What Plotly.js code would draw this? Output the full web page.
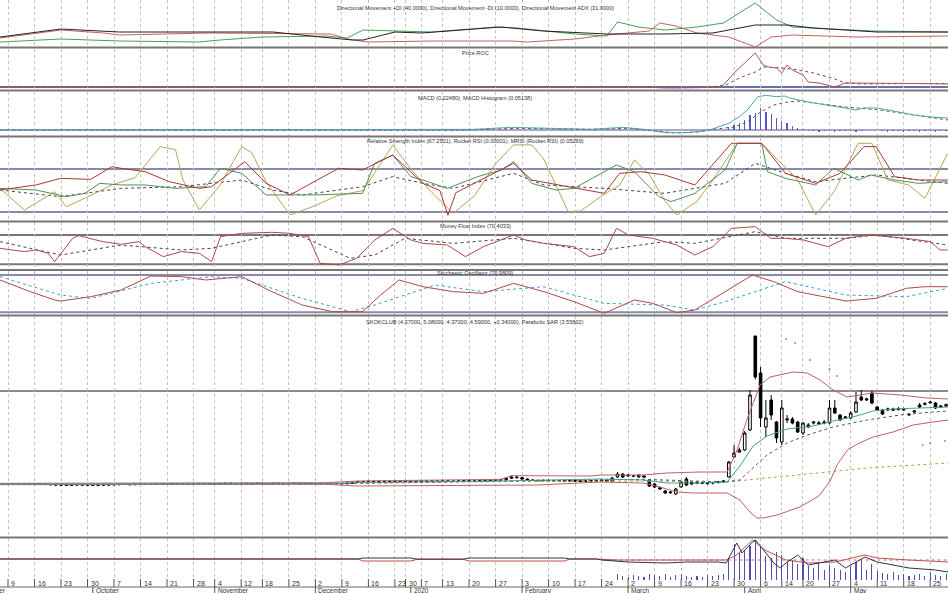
<!DOCTYPE html>
<html><head><meta charset="utf-8">
<script src="https://cdn.plot.ly/plotly-3.0.1.min.js"></script>
<style>html,body{margin:0;padding:0;background:#fff}#chart{width:948px;height:593px}</style>
</head><body><div id="chart"></div>
<script>
// ---------- axis: trading-day index (0 = 9 Sep 2019) ----------
const weekIdx  = [0,5,10,15,20,25,30,35,39,44,48,53,58,63,68,73,75,78,82,87,92,97,102,107,112,117,122,127,132,137,142,146,150,155,159,164,169,174];
const weekText = ['9','16','23','30','7','14','21','28','4','12','18','25','2','9','16','23','30','7','13','20','27','3','10','17','24','2','9','16','23','30','6','14','20','27','4','11','18','25'];
const monthIdx  = [16,39,58,76,97,117,139,159];
const monthText = ['October','November','December','2020','February','March','April','May'];

// ---------- panel titles ----------
const titles = [
 'Directional Movement +DI (40.0000), Directional Movement -DI (10.0000), Directional Movement ADX (31.0000)',
 'Price ROC',
 'MACD (0.22480), MACD Histogram (0.05138)',
 'Relative Strength Index (67.2501), Rocket RSI (0.00001), MRSI (Rocket RSI) (0.05269)',
 'Money Flow Index (70.4033)',
 'Stochastic Oscillator (70.9809)',
 'SKOKCLUB (4.37000, 5.08000, 4.37000, 4.59000, +0.34000), Parabolic SAR (3.55802)'
];

// ---------- DMI ----------
const adxDay = [-1.5,10,21,38,50,59,65,67,73,78,93,101,113,124,133,141,147,152,164,177.4];
const adxVal = [20,36,30,30,30,20,14,14,30,28,40,32,26,26,28,44,44,38,30,30];
const plusDiDay = [-1.5,10,21,36,40,48,60,64,67,72,80,92,96,107,113,115,119,124,130,135,138,141,145,148,163,177.4];
const plusDiVal = [10,16,12,10,14,20,22,18,34,32,30,40,38,26,22,50,40,34,40,48,68,88,54,40,32,30];
const minusDiDay = [-1.5,10,18,21,38,61,64,68,80,95,98,107,113,121,123,126,130,136,141,144,148,160,177.4];
const minusDiVal = [18,34,28,24,28,26,16,10,12,12,10,16,24,32,48,42,28,20,0,20,24,20,22];

// ---------- Price ROC ----------
const rocDay = [-1.5,20,53,60,70,90,100,108,115,120,124,128,132,134,135,137,139,141,142.5,143.5,145,146,147,148,150,151,153,156,158,164,171,177.4];
const rocVal = [0,0,0.5,0.5,0,1,1.5,0,1,0,-2,-2,-1,0,4,28,48,68,44,40,38,28,44,34,24,10,8,0,8,8,7,6];
const rocSigDay = [-1.5,100,110,120,126,132,135.5,138,141,142.5,146,148,152,156,158,161,171,177.4];
const rocSigVal = [0,0.5,0.5,0.5,-1.5,-1,4,18,30,40,38,36,28,16,8,6,7,7];

// ---------- MACD ----------
const macdDay = [-1.5,50,88,95,102,110,116,120,124,128,132,134,136,138,139.5,141,141.5,143,145,146.5,147.5,151,155,158,160,161.5,164,168,171,174,177.4];
const macdVal = [0,0,0.01,0.04,0.03,0.01,0.04,0.01,-0.04,-0.04,-0.01,0.045,0.1,0.2,0.3,0.45,0.5,0.52,0.5,0.51,0.48,0.42,0.375,0.33,0.3,0.33,0.33,0.27,0.225,0.195,0.18];
const macdSigDay = [-1.5,86,96,110,117,122,126,130,133,137,139.5,142,144.5,147,149,152,158,164.5,171,174,177.4];
const macdSigVal = [0,0,0.025,0.01,0.025,-0.01,-0.045,-0.03,0.01,0.045,0.12,0.27,0.375,0.42,0.435,0.405,0.345,0.3,0.225,0.18,0.15];
const histDay = [136,137,138,139,140,141,142,143,144,145,146,147,148,149,150,151,152,153,154,155,156,157,158,159,160,161,165,166,167,168,169,170,171,172,173,174,175,176,177];
const histVal = [0.05,0.08,0.10,0.15,0.22,0.26,0.33,0.27,0.24,0.18,0.14,0.10,0.06,0.03,0.01,-0.02,-0.02,-0.025,-0.02,-0.02,-0.025,-0.02,-0.02,-0.02,-0.025,-0.02,-0.02,-0.025,-0.02,-0.02,-0.025,-0.02,-0.02,-0.025,-0.02,-0.02,-0.025,-0.02,-0.02];

// ---------- RSI family ----------
const rsiDay = [-1.5,5.3,9.9,15.6,19.6,21.3,25.9,30.4,36.1,38.4,44.7,48.7,53.2,62.4,66.9,72.6,78.3,81.5,83,84.5,88.6,93.1,95.4,98.8,105.7,112.5,115.4,119.4,123.9,129.6,136.5,142.2,146.7,152.4,157,161.5,163.8,167.3,171.8,177.3];
const rsiVal = [50.5,55.2,61.3,60.4,72.2,70.7,67.5,58.3,52,53.6,76.8,56.7,45.9,70.7,69.1,83,56.7,50,27,48,58.3,69.1,75.3,59.8,53.6,47.4,66,67.5,64.5,55.2,93.9,93.9,66,56.7,66,90.8,90.8,62.9,59.8,59.8];
const rocketDay = [-1.5,3.1,8.8,11,14.5,19.6,24,28.7,31.6,33,36.1,40,44.1,46,48.7,53.2,58,62,67,72.6,76,80,84,88,92,95.4,98.8,101,105.7,108,112,115.4,118.2,121,124,126.2,130,133,137.6,142.2,146,149,152.4,156,160.4,163,166,170,173,177.3];
const rocketVal = [52,31.9,48.9,35,42.8,55.2,62,90.8,88,60,31.9,55,90.8,85,58,27.3,36,45,50,92.4,70,48,28.8,45,75,92.4,92.4,80,30.4,31,45,55,78.4,65,40,27.3,40,60,93.9,93.9,75,60,27.3,50,93.9,93.9,60,55,42.8,84.6];
const mrsiDay = [-1.5,5.3,11,14.5,17.3,21.3,25.9,31.6,37.3,40.1,44.1,48.7,57.8,66.9,69.2,72.6,76,78.3,82.9,88.6,93.1,95.4,98.8,103.4,106.8,114.8,118.2,122.8,125.1,129.6,135.3,137.6,142.2,143.3,146.7,152.4,155.8,160.4,162.7,167.3,171.8,177.3];
const mrsiVal = [52,50.5,44.3,47.4,56.7,55.2,55.2,52,53.6,70.7,66,45.9,45.9,47.4,75.3,83,62.9,59.8,52,62.9,69.1,76.8,56.7,50.5,52,73.8,67.5,44.3,39.7,47.4,69.1,93.9,93.9,67.5,61.3,55.2,70.7,59.8,64.5,59.8,56.7,58.3];
const rsiSigDay = [-1.5,9.9,21.3,32.7,44.1,49.8,55.5,66.9,72.6,78.3,84,95.4,101.1,112.5,123.9,135.3,141,146.7,152.4,163.8,177.3];
const rsiSigVal = [50.5,44.3,52,53.6,59.8,50.5,45.9,53.6,62.9,56.7,52,66,55.2,52,47.4,56.7,75.3,66,58.3,64.5,56.7];
const rsiLevels = [70,30];

// ---------- Money Flow Index ----------
const mfiDay = [-1.5,3.06,5.3,7.6,8.8,12.2,13.3,17.9,21.3,24.7,25.9,29.3,32.7,36.1,38.4,40.1,44.1,49.8,53.2,56.7,58.9,62.4,65.8,69.2,72.6,76,78.3,82.9,86.3,89.7,95.4,97.7,101.1,106.8,109.7,112.5,114.8,117.1,121.6,126.2,129.6,133,136.5,141,143.9,146.7,150.1,154.7,158.1,162.7,166.1,169.5,174.1,175.8,177.3];
const mfiVal = [52.7,45.9,49.3,42.5,25.4,73.2,78.7,66.4,60.9,66.4,56.1,35.6,45.9,42.5,25.4,76.6,83.4,85.5,83.4,76.6,22,18.6,32.2,69.8,93.7,69.8,62.9,59.5,35.6,56.1,80,69.8,62.9,56.1,35.6,42.5,93.7,80,73.2,59.5,39,56.1,93.7,97.1,73.2,73.2,69.8,56.1,73.2,80,76.6,73.2,66.4,49.3,49.3];
const mfiSigDay = [-1.5,9.9,21.3,32.7,38.4,49.8,55.5,64.6,69.2,74.9,84,95.4,106.8,112.5,123.9,129.6,141,146.7,158.1,163.8,177.3];
const mfiSigVal = [66.4,39,59.5,49.3,52.7,80,76.6,32.2,39,73.2,62.9,73.2,52.7,49.3,66.4,62.9,86.8,73.2,73.2,80,59.5];
const mfiLevels = [80,20];

// ---------- Stochastic ----------
const stoDay = [-1.5,4.2,8.8,9.9,15.6,21.3,27,32.7,37.3,44.1,49.8,55.5,61.2,66.9,70.3,73.8,78.3,84,89.7,95.4,101.1,106.8,112.5,118.2,121.6,126.2,129.6,135.3,140.5,144.5,149,158.1,163.8,169.5,173,177.3];
const stoVal = [71.9,53.1,39.7,38,45,55.8,78.3,77.3,71.9,77.3,53.1,31.6,20.9,20.9,47.7,71.9,61.1,53.1,50.4,66.5,53.1,37,18.2,39.7,34.3,19.3,23.5,53.1,80,69.2,53.1,38,42.3,58.5,61.1,61.1];
const stoSigDay = [-1.5,9.9,15.6,27,38.4,44.1,55.5,64.6,69.2,80.6,89.7,101.1,112.5,123.9,129.6,135.3,146.7,158.1,169.5,177.3];
const stoSigVal = [77.3,47.7,42.3,66.5,77.3,74.6,42.3,20.9,31.6,63.8,53.1,61.1,34.3,31.6,23.5,37,69.2,47.7,45,58.5];
const stoLevels = [80,20];

// ---------- Price (daily candles, first candle = day -1) ----------
const firstCandleDay = -1;
const open = [2.20,2.21,2.22,2.21,2.20,2.21,2.21,2.22,2.21,2.20,2.19,
 2.18,2.18,2.17,2.18,2.19,2.18,2.18,2.17,2.18,2.18,
 2.19,2.19,2.20,2.20,2.19,2.20,2.21,2.20,2.20,2.21,
 2.20,2.20,2.21,2.21,2.20,2.21,2.21,2.22,2.21,2.21,
 2.22,2.22,2.23,2.22,2.22,2.23,2.22,2.22,2.23,2.22,
 2.22,2.23,2.22,2.22,2.23,2.23,2.22,2.23,2.22,2.22,
 2.23,2.22,2.23,2.22,2.22,2.23,2.26,2.28,2.28,2.29,
 2.28,2.29,2.29,2.28,2.29,2.30,2.29,2.28,2.29,2.30,
 2.29,2.30,2.29,2.30,2.30,2.29,2.30,2.31,2.30,2.30,
 2.31,2.31,2.32,2.33,2.34,2.38,2.42,2.40,2.36,2.33,
 2.32,2.31,2.32,2.31,2.30,2.31,2.30,2.31,2.30,2.29,2.30,2.31,
 2.30,2.33,2.30,2.42,2.51,2.45,2.45,2.42,2.45,2.33,2.21,2.10,2.00,1.97,1.91,2.12,2.36,2.27,2.24,2.25,2.22,2.24,2.26,2.28,
 2.42,3.02,3.17,3.23,3.83,6.65,5.54,3.92,4.73,4.07,3.47,4.13,4.16,4.07,3.74,3.98,4.04,4.01,4.07,4.04,4.49,4.28,4.19,4.19,4.37,4.82,4.73,4.94,4.52,4.43,4.43,4.46,4.44,4.43,4.28,4.37,4.58,4.60,4.67,4.64,4.52,4.55];
const high = [2.23,2.24,2.24,2.23,2.23,2.23,2.24,2.24,2.23,2.22,2.21,
 2.20,2.20,2.20,2.21,2.21,2.20,2.20,2.20,2.20,2.21,
 2.21,2.22,2.22,2.22,2.22,2.23,2.23,2.22,2.23,2.23,
 2.22,2.23,2.23,2.23,2.23,2.23,2.24,2.24,2.23,2.24,
 2.24,2.25,2.25,2.24,2.25,2.25,2.24,2.25,2.25,2.24,
 2.25,2.25,2.24,2.25,2.25,2.25,2.25,2.25,2.24,2.25,
 2.25,2.25,2.25,2.24,2.25,2.28,2.30,2.30,2.31,2.31,
 2.31,2.31,2.31,2.31,2.32,2.32,2.31,2.31,2.32,2.32,
 2.32,2.32,2.32,2.32,2.32,2.32,2.33,2.33,2.32,2.33,
 2.33,2.34,2.35,2.36,2.41,2.46,2.44,2.42,2.38,2.35,
 2.34,2.34,2.34,2.33,2.33,2.33,2.33,2.33,2.32,2.32,2.33,2.33,
 2.36,2.36,2.42,2.57,2.54,2.50,2.48,2.50,2.48,2.36,2.24,2.12,2.03,2.00,2.09,2.30,2.42,2.30,2.28,2.28,2.27,2.28,2.30,2.33,
 2.90,3.38,3.30,3.80,5.03,6.65,5.72,4.73,4.88,4.10,4.73,4.28,4.22,4.10,4.07,4.04,4.10,4.10,4.13,4.73,4.73,4.31,4.25,4.40,4.97,5.03,4.80,5.00,4.55,4.46,4.50,4.50,4.52,4.50,4.34,4.43,4.64,4.67,4.70,4.67,4.58,4.62];
const low = [2.18,2.19,2.19,2.18,2.18,2.19,2.19,2.19,2.18,2.17,2.16,
 2.16,2.15,2.15,2.16,2.16,2.16,2.15,2.15,2.16,2.16,
 2.17,2.17,2.18,2.17,2.17,2.18,2.18,2.18,2.18,2.18,
 2.18,2.18,2.19,2.18,2.18,2.19,2.19,2.19,2.19,2.19,
 2.20,2.20,2.20,2.20,2.20,2.20,2.20,2.20,2.20,2.20,
 2.20,2.20,2.20,2.20,2.21,2.20,2.20,2.20,2.20,2.20,
 2.20,2.20,2.20,2.20,2.20,2.21,2.24,2.26,2.26,2.26,
 2.26,2.27,2.26,2.26,2.27,2.27,2.26,2.26,2.27,2.27,
 2.27,2.27,2.27,2.28,2.27,2.27,2.28,2.28,2.28,2.28,
 2.29,2.29,2.30,2.31,2.32,2.36,2.38,2.34,2.31,2.30,
 2.29,2.29,2.29,2.28,2.28,2.28,2.28,2.28,2.27,2.27,2.28,2.28,
 2.27,2.27,2.27,2.39,2.39,2.42,2.42,2.40,2.40,2.12,2.09,2.03,1.91,1.92,1.88,2.10,2.15,2.18,2.20,2.20,2.19,2.20,2.22,2.25,
 2.40,2.99,3.14,3.20,3.80,5.35,3.92,3.62,4.13,3.44,3.38,4.04,4.00,3.74,3.68,3.89,4.00,3.98,4.00,4.00,4.31,4.10,4.16,4.16,4.34,4.70,4.70,4.60,4.40,4.28,4.40,4.40,4.42,4.40,4.25,4.34,4.49,4.57,4.62,4.46,4.49,4.52];
const close = [2.21,2.22,2.21,2.20,2.21,2.21,2.22,2.21,2.20,2.19,2.18,
 2.18,2.17,2.18,2.19,2.18,2.18,2.17,2.18,2.18,2.19,
 2.19,2.20,2.20,2.19,2.20,2.21,2.20,2.20,2.21,2.20,
 2.20,2.21,2.21,2.20,2.21,2.21,2.22,2.21,2.21,2.22,
 2.22,2.23,2.22,2.22,2.23,2.22,2.22,2.23,2.22,2.22,
 2.23,2.22,2.22,2.23,2.23,2.22,2.23,2.22,2.22,2.23,
 2.22,2.23,2.22,2.22,2.23,2.26,2.28,2.28,2.29,2.28,
 2.29,2.29,2.28,2.29,2.30,2.29,2.28,2.29,2.30,2.29,
 2.30,2.29,2.30,2.30,2.29,2.30,2.31,2.30,2.30,2.31,
 2.31,2.32,2.33,2.34,2.38,2.42,2.40,2.36,2.33,2.32,
 2.31,2.32,2.31,2.30,2.31,2.30,2.31,2.30,2.29,2.30,2.31,2.30,
 2.33,2.30,2.39,2.51,2.42,2.48,2.45,2.48,2.42,2.15,2.12,2.06,1.94,1.95,2.06,2.27,2.18,2.21,2.26,2.23,2.24,2.25,2.27,2.30,
 2.87,3.14,3.23,3.74,4.88,5.42,4.19,4.19,4.28,3.59,4.49,4.16,4.04,3.77,4.04,3.92,4.07,4.04,4.04,4.49,4.34,4.13,4.22,4.34,4.67,4.73,4.76,4.64,4.43,4.31,4.46,4.43,4.47,4.45,4.30,4.40,4.52,4.62,4.65,4.49,4.55,4.59];

const bbUpperDay = [-1.5,60,66,93,95,110,111.7,119.8,124.3,130.6,135.7,137.5,139.4,141.9,143.8,145.7,148.1,150.8,153.2,155.7,158.3,160.8,163.2,168.3,173.4,177.4];
const bbUpperVal = [2.23,2.25,2.30,2.35,2.46,2.45,2.48,2.48,2.54,2.57,2.57,3.2,4.13,5.18,5.42,5.48,5.57,5.54,5.33,5.03,4.82,4.88,4.94,4.88,4.79,4.76];
const bbLowerDay = [-1.5,60,66,93,100,111.7,119.8,123,126.2,129.2,135.7,138.1,140,141.3,142.5,145.1,149.4,153,155.1,156.5,158.5,160.8,163.2,167,170.8,174.5,177.4];
const bbLowerVal = [2.19,2.20,2.15,2.17,2.18,2.27,2.24,2.12,1.97,1.94,1.94,1.73,1.37,1.19,1.19,1.28,1.52,1.85,2.3,2.8,3.25,3.45,3.62,3.77,3.98,4.07,4.13];
const bbMidDay = [-1.5,60,66,93,111.7,119.8,124.3,130.6,135.7,138.1,140.6,143.2,147,151.9,155.7,159.4,163.2,167,172,177.4];
const bbMidVal = [2.21,2.22,2.25,2.30,2.36,2.33,2.24,2.24,2.27,2.75,3.35,3.65,3.86,3.95,4.10,4.22,4.40,4.46,4.49,4.52];
const maDay = [-1.5,60,93,120,135,138.1,143.2,147,150.8,155.7,162.1,168.3,174.5,177.4];
const maVal = [2.20,2.22,2.30,2.35,2.27,2.33,3.08,3.44,3.68,3.92,4.13,4.28,4.37,4.40];
const longMaDay = [-1.5,60,93,120,135.7,149.4,162.1,177.4];
const longMaVal = [2.20,2.22,2.28,2.30,2.27,2.48,2.69,2.84];
const sarDay = [146.8,148.5,151.3,155,156.4,172.6,174,176.8];
const sarVal = [6.56,6.44,5.93,5.66,5.45,3.38,3.44,3.50];
const priceLevels = [5.0];

// ---------- Volume panel ----------
const volDay = [115,116,117,118,119,120,121,122,123,124,125,126,127,128,129,130,131,132,133,134,135,136,137,138,139,140,141,142,143,144,145,146,147,148,149,150,151,152,153,154,155,156,157,158,159,160,161,162,163,164,165,166,167,168,169,170,171,172,173,174,175,176,177];
const volVal = [6,4,3,5,4,3,6,5,4,6,3,5,6,4,3,4,3,5,4,5,6,22,36,28,30,34,40,33,24,22,28,25,18,20,16,22,14,12,18,10,15,12,10,8,14,18,20,10,16,9,7,6,8,5,6,4,5,6,4,8,5,4,6];
const volLineDay = [-1.5,66,67,76,77,86,87,105,106,111,112,117,124,128,134,135.5,137.5,138.5,140.5,141,143,144.5,145.7,146.8,149,151,156,158,161.7,164,170,175,177.4];
const volLineVal = [21,21,22,22,21,21,22,22,21,21,20,18,17,18,18,17,37,27,38,40,27,17,12,17,25,15,20,12,23,18,12,10,8];
const volAvgDay = [-1.5,66,67,76,77,86,87,105,106,111,115,130,135.5,137.5,140.5,142.8,146.8,151,156,161.7,164,170,177.4];
const volAvgVal = [21,21,19,19,20.5,20.5,19,19,21,21,20,19.5,20,25,40,30,20,17,18,25,22,20,18];
const volRefDay = [112,177.4];
const volRefVal = [20,20];

// ================= layout helpers (pixel geometry) =================
const W = 948, H = 593;
const py = p => 1 - p / H;
function dom(top, bottom) { return [py(bottom), py(top)]; }
const FONT = 'Liberation Sans Narrow, Liberation Sans, Arial, sans-serif';

function line(x, y, ax, color, dash, width) {
  return {type:'scatter', mode:'lines', x:x, y:y, xaxis:'x', yaxis:ax,
    line:{color:color, width:width||1, dash:dash||'solid'}, hoverinfo:'skip', showlegend:false};
}
const candleDays = close.map((_, k) => firstCandleDay + k);

const traces = [
  line(minusDiDay, minusDiVal, 'y', '#c86060'),
  line(plusDiDay, plusDiVal, 'y', '#4f9a5a'),
  line(adxDay, adxVal, 'y', '#222222'),

  line(rocSigDay, rocSigVal, 'y2', '#555555', 'dot'),
  line(rocDay, rocVal, 'y2', '#b05050'),

  {type:'bar', x:histDay, y:histVal, xaxis:'x', yaxis:'y3', width:0.25,
   marker:{color:'#5a5ac0', line:{width:0}}, hoverinfo:'skip', showlegend:false},
  line(macdSigDay, macdSigVal, 'y3', '#555555', 'dot'),
  line(macdDay, macdVal, 'y3', '#4aa8a8'),

  line(rsiSigDay, rsiSigVal, 'y4', '#444444', 'dot'),
  line(rocketDay, rocketVal, 'y4', '#b8a456'),
  line(mrsiDay, mrsiVal, 'y4', '#4e9058'),
  line(rsiDay, rsiVal, 'y4', '#a83838'),

  line(mfiSigDay, mfiSigVal, 'y5', '#444444', 'dot'),
  line(mfiDay, mfiVal, 'y5', '#b04848'),

  line(stoSigDay, stoSigVal, 'y6', '#3aa0c8', 'dot'),
  line(stoDay, stoVal, 'y6', '#b04848'),

  line(longMaDay, longMaVal, 'y7', '#a8a850', 'dot'),
  line(maDay, maVal, 'y7', '#555555', 'dot'),
  line(bbUpperDay, bbUpperVal, 'y7', '#c06060'),
  line(bbLowerDay, bbLowerVal, 'y7', '#c06060'),
  line(bbMidDay, bbMidVal, 'y7', '#40a0a0'),
  {type:'candlestick', x:candleDays, open:open, high:high, low:low, close:close,
   xaxis:'x', yaxis:'y7', whiskerwidth:0, hoverinfo:'skip', showlegend:false,
   increasing:{line:{color:'#000000', width:1}, fillcolor:'#ffffff'},
   decreasing:{line:{color:'#000000', width:1}, fillcolor:'#000000'}},
  {type:'scatter', mode:'markers', x:sarDay, y:sarVal, xaxis:'x', yaxis:'y7',
   marker:{size:2, color:'#909090'}, hoverinfo:'skip', showlegend:false},

  {type:'bar', x:volDay, y:volVal, xaxis:'x', yaxis:'y8', width:0.22,
   marker:{color:'#5050a8', line:{width:0}}, hoverinfo:'skip', showlegend:false},
  line(volRefDay, volRefVal, 'y8', '#d06a6a', 'dot'),
  line(volAvgDay, volAvgVal, 'y8', '#c05050'),
  line(volLineDay, volLineVal, 'y8', '#333344')
];

function yax(top, bottom, range) {
  return {domain:dom(top, bottom), range:range, anchor:'x', showgrid:false, zeroline:false,
          showticklabels:false, ticks:'', showline:false, fixedrange:true};
}

const layout = {
  width:W, height:H, margin:{l:0, r:0, t:0, b:0}, paper_bgcolor:'#ffffff', plot_bgcolor:'#ffffff',
  showlegend:false, dragmode:false, bargap:0,
  xaxis:{range:[-1.51, 177.36], domain:[0,1], anchor:'y8', tickmode:'array', tickvals:weekIdx,
         showticklabels:false, ticks:'', showgrid:true, gridcolor:'#c2c2c2', griddash:'dot', gridwidth:1,
         zeroline:false, showline:false, fixedrange:true, rangeslider:{visible:false}},
  yaxis:  yax(0, 47.5, [-1, 94]),
  yaxis2: yax(48.5, 90, [-6, 77]),
  yaxis3: yax(91.5, 136, [-0.09, 0.5775]),
  yaxis4: yax(137.5, 221, [21.7, 99.3]),
  yaxis5: yax(222, 269.5, [9.3, 106.65]),
  yaxis6: yax(270.5, 315, [15.5, 87.2]),
  yaxis7: yax(316, 537, [0.62, 7.25]),
  yaxis8: yax(538, 580, [0, 42]),
  shapes:[], annotations:[]
};

// panel separators
[47.5, 90.5, 136.5, 221.5, 270, 315.5, 537.5].forEach(p => {
  layout.shapes.push({type:'line', xref:'paper', yref:'paper', x0:0, x1:1, y0:py(p), y1:py(p),
    line:{color:'#777777', width:2}, layer:'above'});
});
// reference levels
function level(axis, v, color, w) {
  layout.shapes.push({type:'line', xref:'paper', yref:axis, x0:0, x1:1, y0:v, y1:v,
    line:{color:color, width:w}, layer:'below'});
}
level('y2', 0, '#3a3a9a', 1.5);
level('y3', 0, '#8a8ab8', 1.5);
rsiLevels.forEach(v => level('y4', v, '#8a8aa8', 2));
mfiLevels.forEach(v => level('y5', v, '#777777', 2));
stoLevels.forEach(v => level('y6', v, '#8a8aa8', 2));
priceLevels.forEach(v => level('y7', v, '#8a8a8a', 2));

// x axis: baseline, week ticks, month ticks, labels
layout.shapes.push({type:'line', xref:'paper', yref:'paper', x0:0, x1:1, y0:py(587), y1:py(587),
  line:{color:'#666666', width:1}});
weekIdx.forEach((d, k) => {
  layout.shapes.push({type:'line', xref:'x', yref:'paper', x0:d, x1:d, y0:py(587), y1:py(579),
    line:{color:'#555555', width:1}});
  layout.annotations.push({xref:'x', yref:'paper', x:d, y:py(583), text:weekText[k], showarrow:false,
    xanchor:'left', yanchor:'middle', xshift:1, font:{family:FONT, size:7, color:'#333333'}});
});
monthIdx.forEach((d, k) => {
  layout.shapes.push({type:'line', xref:'x', yref:'paper', x0:d, x1:d, y0:py(593), y1:py(587),
    line:{color:'#555555', width:1}});
  layout.annotations.push({xref:'x', yref:'paper', x:d, y:py(590.5), text:monthText[k], showarrow:false,
    xanchor:'left', yanchor:'middle', xshift:1, font:{family:FONT, size:6.5, color:'#333333'}});
});
layout.annotations.push({xref:'paper', yref:'paper', x:8/W, y:py(590.5), text:'September', showarrow:false,
  xanchor:'right', yanchor:'middle', font:{family:FONT, size:6.5, color:'#333333'}});

// panel titles
[8.5, 53.5, 97.5, 141, 226, 272.5, 322].forEach((p, k) => {
  layout.annotations.push({xref:'paper', yref:'paper', x:475/W, y:py(p), text:titles[k], showarrow:false,
    xanchor:'center', yanchor:'middle', font:{family:FONT, size:5.6, color:'#333333'}});
});

Plotly.newPlot('chart', traces, layout, {staticPlot:true, displayModeBar:false});
</script>
</body></html>
